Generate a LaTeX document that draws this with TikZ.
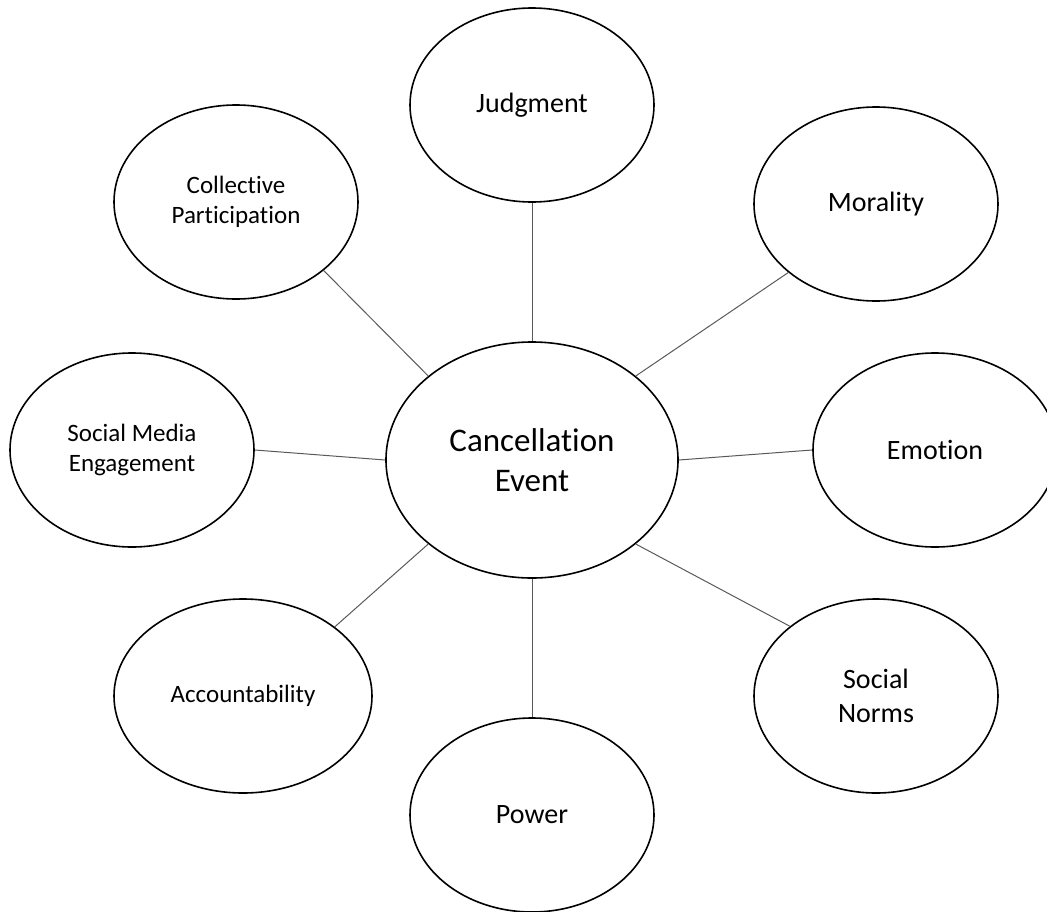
\documentclass[tikz,border=0pt]{standalone}
\usepackage{fontspec}
\setmainfont[Ligatures=CommonOff]{Carlito}
\usetikzlibrary{shapes.geometric}
\tikzset{
  bubble/.style={ellipse, draw=black, line width=1.6pt, fill=white, inner sep=0pt,
    minimum width=244pt, minimum height=194pt, align=center,
    font=\fontsize{28}{34}\selectfont},
  smalltext/.style={font=\fontsize{25}{30}\selectfont},
  hub/.style={bubble, minimum width=292pt, minimum height=236pt,
    font=\fontsize{33}{40}\selectfont},
  link/.style={draw=black!65, line width=1pt}
}
\begin{document}
\begin{tikzpicture}[x=1pt,y=-1pt]
  \useasboundingbox (0,0) rectangle (1047,911);
  \clip (0,0) rectangle (1047,911);

  % central event and the surrounding themes
  \node[hub]    (c)     at (532,460) {Cancellation\\Event};
  \node[bubble] (judg)  at (532,105) {Judgment};
  \node[bubble] (mor)   at (876,204) {Morality};
  \node[bubble] (emo)   at (935,450) {Emotion};
  \node[bubble] (norms) at (876,696) {Social\\Norms};
  \node[bubble] (power) at (532,815) {Power};
  \node[bubble, smalltext, minimum width=258pt] (acc) at (243,696) {Accountability};
  \node[bubble, smalltext] (sme)  at (132,450) {Social Media\\Engagement};
  \node[bubble, smalltext] (coll) at (236,202) {Collective\\Participation};

  % spokes from the centre to each theme
  \draw[link] (c.90)     -- (judg.-90);
  \draw[link] (c.39)     -- (mor.218.5);
  \draw[link] (c.0)      -- (emo.180);
  \draw[link] (c.-39)    -- (norms.141.5);
  \draw[link] (c.-90)    -- (power.90);
  \draw[link] (c.219)    -- (acc.37);
  \draw[link] (c.180)    -- (sme.0);
  \draw[link] (c.141)    -- (coll.-38.5);
\end{tikzpicture}
\end{document}
